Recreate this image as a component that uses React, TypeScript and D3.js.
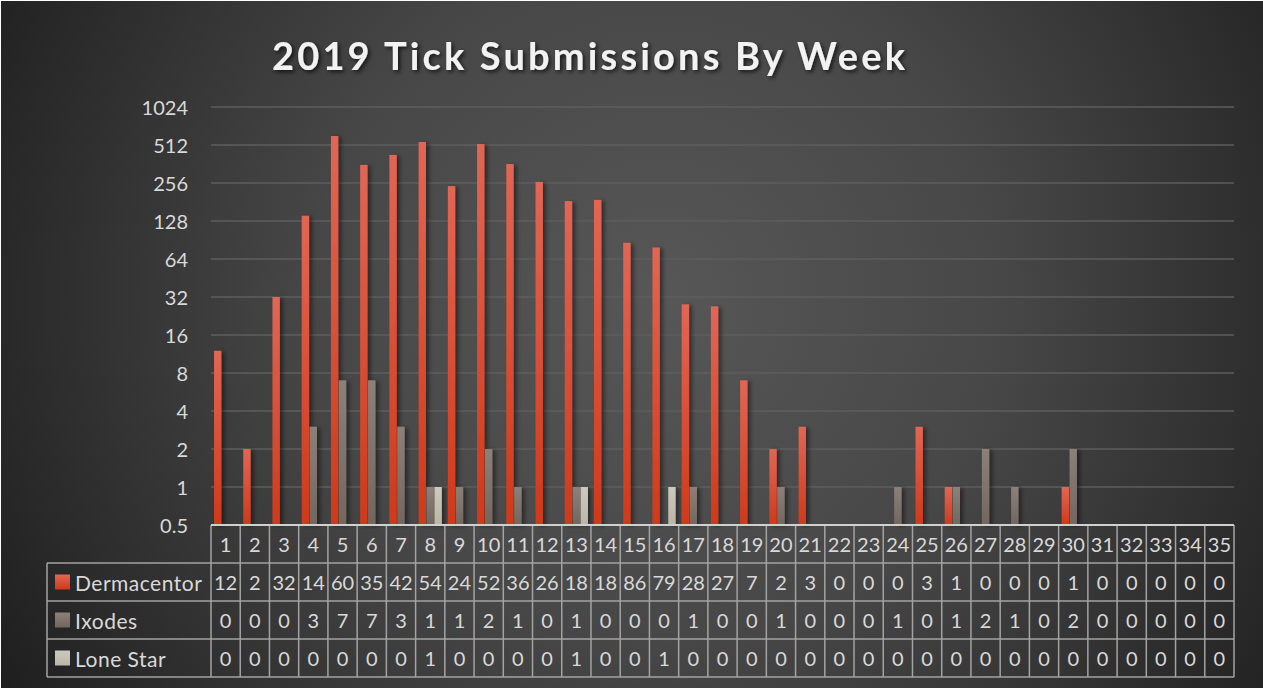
import React from "react";
import * as d3 from "d3";

const weeks = ["1","2","3","4","5","6","7","8","9","10","11","12","13","14","15","16","17","18","19","20","21","22","23","24","25","26","27","28","29","30","31","32","33","34","35"];
const seriesNames = ["Dermacentor", "Ixodes", "Lone Star"];
const dermacentor = [12,2,32,141,603,356,427,541,242,521,362,261,184,188,86,79,28,27,7,2,3,0,0,0,3,1,0,0,0,1,0,0,0,0,0];
const ixodes = [0,0,0,3,7,7,3,1,1,2,1,0,1,0,0,0,1,0,0,1,0,0,0,1,0,1,2,1,0,2,0,0,0,0,0];
const loneStar = [0,0,0,0,0,0,0,1,0,0,0,0,1,0,0,1,0,0,0,0,0,0,0,0,0,0,0,0,0,0,0,0,0,0,0];
const yTicks = [0.5, 1, 2, 4, 8, 16, 32, 64, 128, 256, 512, 1024];
const title = "2019 Tick Submissions By Week";

const W = 1263, H = 688;
const plotL = 211, plotR = 1234, plotT = 107, plotB = 525;
const rowH = 38;
const legendL = 47;
const FONT = "Lato, 'Open Sans', sans-serif";
const TXT = "#d9d9d9";
const GRIDC = "#a3a3a3";

const seriesData = [dermacentor, ixodes, loneStar];
const gradIds = ["gDerm", "gIxo", "gLone"];
const gradStops: [string, string][] = [["#e26654", "#d0391a"], ["#8b8179", "#72675f"], ["#cdc9bd", "#bbb6a7"]];

// The data table cells are narrow: like the original, only the first two characters of a value fit on the visible line.
const cellText = (v: number) => String(v).slice(0, 2);

export default function App() {
  React.useEffect(() => {
    document.body.style.margin = "0";
  }, []);

  const x0 = d3.scaleBand<string>().domain(weeks).range([plotL, plotR]).paddingInner(0).paddingOuter(0);
  const x1 = d3.scaleBand<string>().domain(seriesNames).range([0, x0.bandwidth()]).paddingInner(0.07).paddingOuter(0.38);
  const y = d3.scaleLog().base(2).domain([0.5, 1024]).range([plotB, plotT]);

  const tableTop = plotB;
  const rowsY = [0, 1, 2, 3].map((i) => tableTop + i * rowH);
  const tableBottom = tableTop + 4 * rowH;

  return (
    <svg width={W} height={H} style={{ position: "absolute", left: 0, top: 0, display: "block" }}>
      <defs>
        <radialGradient id="bg" gradientUnits="userSpaceOnUse" cx={660} cy={300} r={760}>
          <stop offset="0" stopColor="#575757" />
          <stop offset="0.45" stopColor="#474747" />
          <stop offset="1" stopColor="#1f1f1f" />
        </radialGradient>
        {gradIds.map((id, i) => (
          <linearGradient key={id} id={id} x1="0" y1="0" x2="0" y2="1">
            <stop offset="0" stopColor={gradStops[i][0]} />
            <stop offset="1" stopColor={gradStops[i][1]} />
          </linearGradient>
        ))}
        <filter id="barShadow" x="-50%" y="-10%" width="250%" height="120%">
          <feDropShadow dx="3" dy="1" stdDeviation="2" floodColor="#000" floodOpacity="0.45" />
        </filter>
        <filter id="titleShadow" x="-10%" y="-30%" width="120%" height="160%">
          <feDropShadow dx="2" dy="2" stdDeviation="2" floodColor="#000" floodOpacity="0.7" />
        </filter>
      </defs>

      <rect x={0} y={0} width={W} height={H} fill="#ffffff" />
      <rect x={1} y={1} width={W - 1} height={H - 1} fill="url(#bg)" />

      <text
        x={(272 + 905) / 2}
        y={70}
        textAnchor="middle"
        fontFamily={FONT}
        fontWeight="bold"
        fontSize={38}
        fill="#f2f2f2"
        textLength={633}
        lengthAdjust="spacing"
        filter="url(#titleShadow)"
      >
        {title}
      </text>

      {/* gridlines */}
      {yTicks.slice(1).map((t) => (
        <line key={t} x1={plotL} x2={plotR} y1={y(t)} y2={y(t)} stroke="#5e5e5e" strokeWidth={1.5} />
      ))}
      {/* y labels */}
      {yTicks.map((t) => (
        <text key={t} x={188} y={y(t)} textAnchor="end" dominantBaseline="central" fontFamily={FONT} fontSize={20} fill={TXT}>
          {String(t)}
        </text>
      ))}

      {/* bars */}
      <g filter="url(#barShadow)">
        {seriesData.map((arr, si) =>
          arr.map((v, i) =>
            v > 0 ? (
              <rect
                key={`${si}-${i}`}
                x={(x0(weeks[i]) as number) + (x1(seriesNames[si]) as number)}
                y={y(v)}
                width={x1.bandwidth()}
                height={plotB - y(v)}
                fill={`url(#${gradIds[si]})`}
              />
            ) : null
          )
        )}
      </g>

      {/* table lines */}
      <g stroke={GRIDC} strokeWidth={1.5} fill="none">
        {[1, 2, 3, 4].map((r) => (
          <line key={r} x1={legendL} x2={plotR} y1={rowsY[0] + r * rowH} y2={rowsY[0] + r * rowH} />
        ))}
        <line x1={legendL} x2={legendL} y1={rowsY[1]} y2={tableBottom} />
        {weeks.map((w) => (
          <line key={w} x1={x0(w)} x2={x0(w)} y1={tableTop} y2={tableBottom} />
        ))}
        <line x1={plotR} x2={plotR} y1={tableTop} y2={tableBottom} />
        <line x1={plotL} x2={plotR} y1={tableTop} y2={tableTop} stroke="#d0d0d0" strokeWidth={2} />
      </g>

      {/* header row */}
      {weeks.map((w) => (
        <text
          key={w}
          x={(x0(w) as number) + x0.bandwidth() / 2}
          y={rowsY[0] + rowH / 2}
          textAnchor="middle"
          dominantBaseline="central"
          fontFamily={FONT}
          fontSize={20}
          fill={TXT}
        >
          {w}
        </text>
      ))}

      {/* series rows */}
      {seriesNames.map((name, si) => {
        const ry = rowsY[si + 1];
        return (
          <g key={name}>
            <rect x={55} y={ry + rowH / 2 - 7.5} width={15} height={15} fill={`url(#${gradIds[si]})`} />
            <text x={75} y={ry + rowH / 2} dominantBaseline="central" fontFamily={FONT} fontSize={21} letterSpacing={0.5} fill={TXT}>
              {name}
            </text>
            {seriesData[si].map((v, i) => (
              <text
                key={i}
                x={(x0(weeks[i]) as number) + x0.bandwidth() / 2}
                y={ry + rowH / 2}
                textAnchor="middle"
                dominantBaseline="central"
                fontFamily={FONT}
                fontSize={20}
                fill={TXT}
              >
                {cellText(v)}
              </text>
            ))}
          </g>
        );
      })}
    </svg>
  );
}
